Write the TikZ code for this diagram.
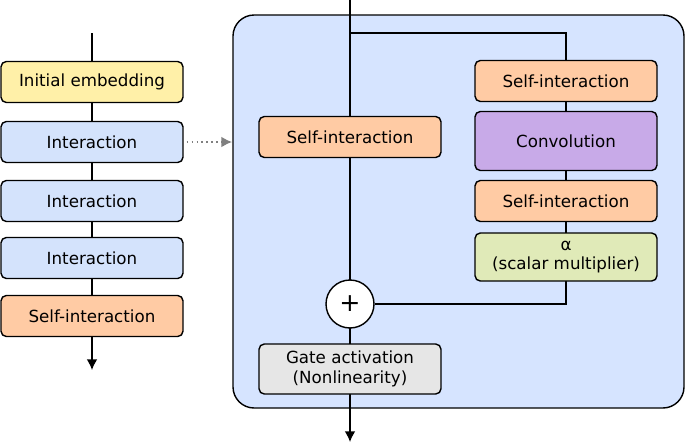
\documentclass[tikz,border=0pt]{standalone}
\usepackage{fontspec}
\setmainfont{DejaVu Sans}
\definecolor{embcol}{HTML}{FFF0A8}
\definecolor{intcol}{HTML}{D4E3FC}
\definecolor{selfcol}{HTML}{FFCBA4}
\definecolor{convcol}{HTML}{C8AAE8}
\definecolor{alphacol}{HTML}{E0EAB8}
\definecolor{gatecol}{HTML}{E6E6E6}
\definecolor{bigcol}{HTML}{D6E4FF}
\tikzset{
  blk/.style={draw, thick, rounded corners=3pt, minimum width=3.64cm, minimum height=0.82cm, align=center, font=\fontsize{9.5}{11}\selectfont},
  arr/.style={thick, -{Latex[length=6pt,width=6pt]}}
}
\usetikzlibrary{arrows.meta}
\begin{document}
\begin{tikzpicture}[x=0.02cm,y=-0.02cm]
      \useasboundingbox (0,0) rectangle (685,443);
      \draw [thick, fill=bigcol, rounded corners=12pt] (233,15) rectangle (684,408);
      % left column
      \coordinate (ltop) at (92,33);
      \coordinate (lbot) at (92,370);
      \draw [arr] (ltop) -- (lbot);
      \node [blk, fill=embcol] (emb) at (92,82) {Initial embedding};
      \node [blk, fill=intcol] (int1) at (92,142) {Interaction};
      \node [blk, fill=intcol] (int2) at (92,201) {Interaction};
      \node [blk, fill=intcol] (int3) at (92,258) {Interaction};
      \node [blk, fill=selfcol] (self0) at (92,316) {Self-interaction};
      \coordinate (bigl) at (232,142);
      \draw [thick, gray, dotted, -{Latex[length=6pt,width=6pt]}] (int1.east) ++(3,0) -- (bigl);
      % main path
      \coordinate (mtop) at (350,0);
      \coordinate (mbot) at (350,442);
      \coordinate (split) at (350,33);
      \coordinate (turn) at (566,33);
      \coordinate (back) at (566,304);
      \draw [arr] (mtop) -- (mbot);
      \node [blk, fill=selfcol] (self1) at (350,137) {Self-interaction};
      \node [draw, thick, circle, fill=white, minimum size=0.96cm, inner sep=0pt, font=\Large] (plus) at (350,304) {+};
      \node [blk, fill=gatecol, minimum height=1cm] (gate) at (350,369) {Gate activation\\(Nonlinearity)};
      % side path
      \draw [thick] (split) -- (turn) -- (back) -- (plus);
      \node [blk, fill=selfcol] (self2) at (566,81) {Self-interaction};
      \node [blk, fill=convcol, minimum height=1.18cm] (conv) at (566,141) {Convolution};
      \node [blk, fill=selfcol] (self3) at (566,201) {Self-interaction};
      \node [blk, fill=alphacol, minimum height=0.96cm] (alpha) at (566,257) {α\\(scalar multiplier)};
\end{tikzpicture}
\end{document}
